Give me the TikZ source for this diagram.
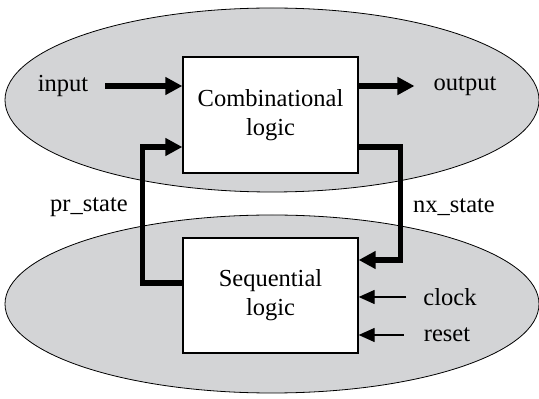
\documentclass[tikz,border=0pt]{standalone}
\usepackage{fontspec}
\setmainfont{Liberation Serif}
\usepackage{tikz}
\usetikzlibrary{arrows.meta,positioning}
\definecolor{ellgray}{HTML}{D3D4D6}

\begin{document}
\begin{tikzpicture}[x=1pt, y=1pt,
  box/.style={draw, line width=1.3pt, fill=white, align=center, minimum width=175pt, minimum height=116pt, inner sep=0pt},
  lbl/.style={inner sep=0pt},
  bigarrow/.style={line width=5.5pt, line join=miter, -{Triangle[length=17pt, width=17pt]}},
  thinarrow/.style={line width=1.3pt, -{Triangle[length=16pt, width=14pt]}},
  every node/.style={font=\fontsize{24.5}{29}\selectfont}]
\useasboundingbox (0,0) rectangle (539,399);
% the two gray regions
\draw[fill=ellgray, line width=0.8pt] (272,299) ellipse [x radius=267, y radius=92];
\draw[fill=ellgray, line width=0.8pt] (272,95) ellipse [x radius=267, y radius=89];
% blocks
\node[box] (comb) at (270.5,284) {Combinational\\logic};
\node[box, minimum height=115pt] (seq) at (270.5,103.5) {Sequential\\logic};
% labels
\node[lbl] (in) at (63,313) {input};
\node[lbl] (out) at (465,313) {output};
\node[lbl] (prst) at (89,192) {pr\_state};
\node[lbl] (nxst) at (454,192) {nx\_state};
\node[lbl] (clk) at (450,102) {clock};
\node[lbl] (rst) at (447,64) {reset};
% connectors
\draw[bigarrow] ([xshift=17pt]in.east) -- (in.east -| comb.west);
\draw[bigarrow] (out.west -| comb.east) -- ([xshift=-19pt]out.west);
\draw[bigarrow] ([yshift=12.5pt]seq.west) -- ++(-40,0) |- ([yshift=-32pt]comb.west);
\draw[bigarrow] ([yshift=-32pt]comb.east) -- ++(42,0) |- ([yshift=35.5pt]seq.east);
\draw[thinarrow] ([xshift=-17pt]clk.west) -- (clk.west -| seq.east);
\draw[thinarrow] ([xshift=-20pt]rst.west) -- (rst.west -| seq.east);
\end{tikzpicture}
\end{document}
